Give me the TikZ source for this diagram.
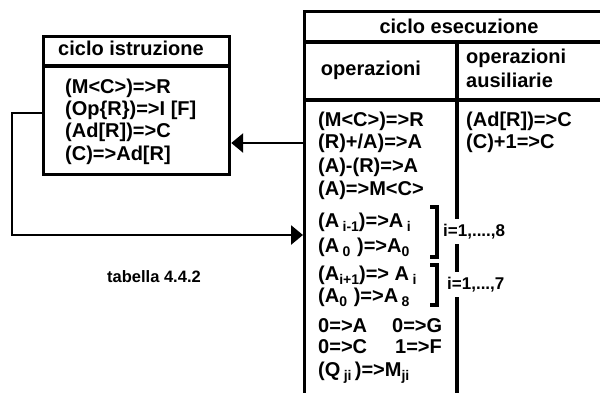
\documentclass[tikz,border=0pt]{standalone}
\usepackage{fontspec}
\setmainfont{Liberation Sans}
\usetikzlibrary{arrows.meta}
\newcommand{\sbs}[1]{\raisebox{-0.4ex}{\fontsize{14}{14}\selectfont #1}}
\begin{document}
\begin{tikzpicture}[x=1pt,y=-1pt,
  frame/.style={line width=3.2pt},
  conn/.style={line width=2.8pt,-{Triangle[length=12pt,width=19pt]}},
  txt/.style={font=\fontsize{20}{20}\selectfont\bfseries,anchor=base west,inner sep=0pt},
  head/.style={font=\fontsize{20}{20}\selectfont\bfseries,anchor=base,inner sep=0pt},
  lbl/.style={font=\fontsize{17}{17}\selectfont\bfseries,anchor=base west,fill=white,inner xsep=1pt,inner ysep=5pt},
  captxt/.style={font=\fontsize{16.5}{16.5}\selectfont\bfseries,inner sep=0pt}]
\useasboundingbox (0,0) rectangle (600,392);
\fill[white] (0,0) rectangle (600,392);

% left box: ciclo istruzione
\node[draw,frame,anchor=north west,minimum width=186pt,minimum height=138pt,inner sep=0pt] (istr) at (42,35) {};
\draw[frame] (istr.west |- 0,66) coordinate (isl) -- (istr.east |- 0,66) coordinate (isr);
\node[head] (ih) at (131,55) {ciclo istruzione};
\node[txt] (i1) at (65,93) {(M<C>)=>R};
\node[txt] (i2) at (65,115) {(Op\{R\})=>I [F]};
\node[txt] (i3) at (65,137) {(Ad[R])=>C};
\node[txt] (i4) at (65,160) {(C)=>Ad[R]};

% right table: ciclo esecuzione
\node[draw,frame,anchor=north west,minimum width=340pt,minimum height=420pt,inner sep=0pt] (exec) at (303,10) {};
\draw[frame] (exec.west |- 0,42) -- (exec.east |- 0,42);
\draw[frame] (exec.west |- 0,100) -- (exec.east |- 0,100);
\draw[frame] (457,42) coordinate (cdt) -- (457,430) coordinate (cdb);
\node[head] (eh) at (459,33) {ciclo esecuzione};
\node[head] (op) at (371,75) {operazioni};
\node[txt] (aux1) at (466,63) {operazioni};
\node[txt] (aux2) at (466,87) {ausiliarie};

\node[txt] (o1) at (318,126) {(M<C>)=>R};
\node[txt] (o2) at (318,148) {(R)+/A)=>A};
\node[txt] (o3) at (318,172) {(A)-(R)=>A};
\node[txt] (o4) at (318,195) {(A)=>M<C>};
\node[txt] (o5) at (318,227) {(A\,\sbs{i-1})=>A\,\sbs{i}};
\node[txt] (o6) at (318,252) {(A\,\sbs{0}\,\,)=>A\sbs{0}};
\node[txt] (o7) at (318,280) {(A\sbs{i+1})=> A\,\sbs{i}};
\node[txt] (o8) at (318,302) {(A\sbs{0}\,\,)=>A\,\sbs{8}};
\node[txt] (o9) at (318,332) {\makebox[74pt][l]{0=>A}0=>G};
\node[txt] (o10) at (318,353) {\makebox[77pt][l]{0=>C}1=>F};
\node[txt] (o11) at (318,376) {(Q\,\sbs{ji}\,)=>M\sbs{ji}};

\node[txt] (x1) at (466,126) {(Ad[R])=>C};
\node[txt] (x2) at (466,148) {(C)+1=>C};

% brackets
\draw[frame] (430,207) -- (437,207) -- (437,257) -- (430,257);
\draw[frame] (430,265) -- (437,265) -- (437,305) -- (430,305);
\node[lbl] (l1) at (442,236) {i=1,....,8};
\node[lbl] (l2) at (446,289) {i=1,...,7};

% connectors
\coordinate (a1) at (exec.west |- 0,143);
\draw[conn] (a1) -- (a1 -| istr.east);
\coordinate (b0) at (istr.west |- 0,113);
\coordinate (b1) at (12,113);
\coordinate (b2) at (12,235);
\draw[conn] (b0) -- (b1) -- (b2) -- (b2 -| exec.west);

\node[captxt] (tab) at (154,277) {tabella 4.4.2};
\end{tikzpicture}
\end{document}
